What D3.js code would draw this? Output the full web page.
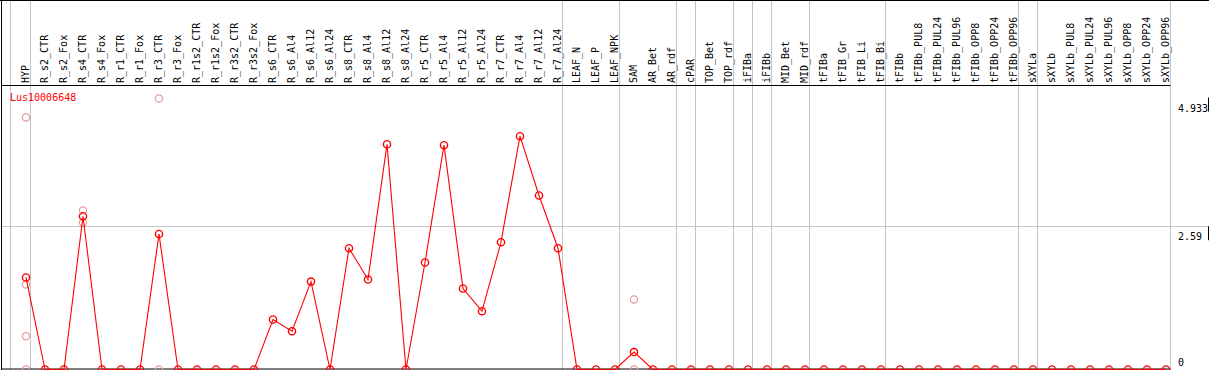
<!DOCTYPE html>
<html>
<head>
<meta charset="utf-8">
<script src="https://cdn.jsdelivr.net/npm/d3@7"></script>
<style>
  html, body { margin: 0; padding: 0; background: #fff; }
  svg { display: block; }
  text { font-family: "DejaVu Sans Mono", monospace; font-size: 10px; }
</style>
</head>
<body>
<svg id="chart" width="1209" height="370"></svg>
<script>
const categories = ["HYP","R_s2_CTR","R_s2_Fox","R_s4_CTR","R_s4_Fox","R_r1_CTR","R_r1_Fox","R_r3_CTR","R_r3_Fox",
  "R_r1s2_CTR","R_r1s2_Fox","R_r3s2_CTR","R_r3s2_Fox","R_s6_CTR","R_s6_Al4","R_s6_Al12","R_s6_Al24",
  "R_s8_CTR","R_s8_Al4","R_s8_Al12","R_s8_Al24","R_r5_CTR","R_r5_Al4","R_r5_Al12","R_r5_Al24",
  "R_r7_CTR","R_r7_Al4","R_r7_Al12","R_r7_Al24","LEAF_N","LEAF_P","LEAF_NPK","SAM","AR_Bet","AR_rdf",
  "cPAR","TOP_Bet","TOP_rdf","iFIBa","iFIBb","MID_Bet","MID_rdf","tFIBa","tFIB_Gr","tFIB_Li","tFIB_Bi",
  "tFIBb","tFIBb_PUL8","tFIBb_PUL24","tFIBb_PUL96","tFIBb_OPP8","tFIBb_OPP24","tFIBb_OPP96",
  "sXYLa","sXYLb","sXYLb_PUL8","sXYLb_PUL24","sXYLb_PUL96","sXYLb_OPP8","sXYLb_OPP24","sXYLb_OPP96"];

const meanValues = [1.675,0,0,2.79,0,0,0,2.467,0,
  0,0,0,0,0.91,0.697,1.60,0,
  2.208,1.638,4.10,0,1.948,4.083,1.474,1.061,
  2.317,4.247,3.167,2.208,0,0,0,0.318,0,0,
  0,0,0,0,0,0,0,0,0,0,0,
  0,0,0,0,0,0,0,
  0,0,0,0,0,0,0,0];

const replicateCategories = ["HYP","HYP","HYP","HYP","R_s4_CTR","R_s4_CTR","R_r3_CTR","R_r3_CTR","SAM","SAM"];
const replicateValues = [4.587,1.547,0.606,0,2.894,2.676,4.933,0,1.274,0];

const groupStarts = ["HYP","R_s2_CTR","LEAF_N","SAM","cPAR","TOP_Bet","iFIBa","iFIBb","MID_Bet","tFIBa","tFIBb","sXYLa","sXYLb"];
const yTicks = [0, 2.59, 4.933];
const yTickLabels = ["0", "2.59", "4.933"];
const geneName = "Lus10006648";

const W = 1209, H = 370;
const svg = d3.select("#chart");

const x = d3.scaleBand().domain(categories).range([10.5, 10.5 + 19 * categories.length]).padding(0);
const px = c => x(c) + 15.5;
const y = d3.scaleLinear().domain([0, 4.933]).range([369.5, 98.5]);
const xEnd = x(categories[categories.length - 1]) + x.bandwidth() + 1;

// vertical group separators
svg.append("g").selectAll("line").data(groupStarts.concat(["__end"])).join("line")
  .attr("x1", d => d === "__end" ? xEnd : (d === "HYP" ? x(d) : x(d) + 1))
  .attr("x2", d => d === "__end" ? xEnd : (d === "HYP" ? x(d) : x(d) + 1))
  .attr("y1", 0).attr("y2", H)
  .attr("stroke", "#c4c4c4").attr("stroke-width", 1);

// horizontal middle gridline
svg.append("g").selectAll("line").data(yTicks.filter(t => t > 0 && t < 4.933)).join("line")
  .attr("x1", 1).attr("x2", 1208)
  .attr("y1", d => Math.round(y(d)) - 0.5).attr("y2", d => Math.round(y(d)) - 0.5)
  .attr("stroke", "#c4c4c4");

// frame lines
svg.append("line").attr("x1", 0).attr("x2", W).attr("y1", 0.5).attr("y2", 0.5).attr("stroke", "#000");
svg.append("line").attr("x1", 1.5).attr("x2", 1.5).attr("y1", 0).attr("y2", H).attr("stroke", "#000");
svg.append("line").attr("x1", 1).attr("x2", xEnd).attr("y1", 85.5).attr("y2", 85.5).attr("stroke", "#000");
svg.append("line").attr("x1", 1).attr("x2", xEnd).attr("y1", 369).attr("y2", 369).attr("stroke", "#000").attr("stroke-width", 1.2);

// right axis ticks and labels
const axisG = svg.append("g");
axisG.selectAll("text").data(yTicks).join("text")
  .attr("x", 1178)
  .attr("y", (d, i) => d === 0 ? y(d) - 4 : y(d) + 13)
  .attr("fill", "#000")
  .text((d, i) => yTickLabels[i]);
axisG.selectAll("line").data(yTicks.filter(t => t > 0)).join("line")
  .attr("x1", 1208.5).attr("x2", 1208.5)
  .attr("y1", d => y(d) - 1).attr("y2", d => y(d) + 13)
  .attr("stroke", "#000");

// column labels
svg.append("g").selectAll("text").data(categories).join("text")
  .attr("transform", d => `translate(${px(d) + 3},83) rotate(-90)`)
  .attr("fill", "#000")
  .text(d => d);

// gene name
svg.append("text").attr("x", 10).attr("y", 101).attr("fill", "#ff0000").text(geneName);

// replicate circles
svg.append("g").selectAll("circle").data(replicateValues.map((v, i) => ({c: replicateCategories[i], v})))
  .join("circle")
  .attr("cx", d => px(d.c)).attr("cy", d => y(d.v)).attr("r", 3.6)
  .attr("fill", "none").attr("stroke", "#e89a9a").attr("stroke-width", 1.2);

// mean line
const pts = categories.map((c, i) => ({c, v: meanValues[i]}));
svg.append("path").datum(pts)
  .attr("d", d3.line().x(d => px(d.c)).y(d => y(d.v)))
  .attr("fill", "none").attr("stroke", "#ff0000").attr("stroke-width", 1.1);

svg.append("g").selectAll("circle").data(pts).join("circle")
  .attr("cx", d => px(d.c)).attr("cy", d => y(d.v)).attr("r", 3.6)
  .attr("fill", "none").attr("stroke", "#ff0000").attr("stroke-width", 1.4);
</script>
</body>
</html>
